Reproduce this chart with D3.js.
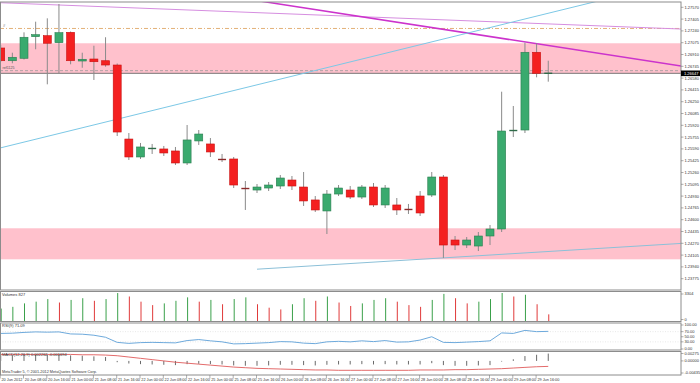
<!DOCTYPE html>
<html><head><meta charset="utf-8">
<script src="https://cdn.jsdelivr.net/npm/d3@7"></script>
<style>
html,body{margin:0;padding:0;background:#fff;overflow:hidden;}
svg{display:block;}
text{font-family:"Liberation Sans",Arial,sans-serif;}
</style></head><body>
<svg id="chart" width="700" height="383"></svg>
<script>
// ---------- DATA ----------
const openP  = [1.27001,1.26823,1.26857,1.27159,1.27173,1.27075,1.27220,1.26819,1.26847,1.26823,
                1.26763,1.25728,1.25477,1.25589,1.25589,1.25561,1.25393,1.25701,1.25659,1.25449,
                1.25449,1.25043,1.25015,1.25043,1.25071,1.25155,1.25057,1.24876,1.24722,1.24959,
                1.25015,1.24917,1.25057,1.24806,1.24806,1.24750,1.24931,1.24945,1.25197,1.24316,
                1.24246,1.24232,1.24372,1.24470,1.25840,1.25854,1.26941,1.26647];
const highP  = [1.27043,1.26935,1.27220,1.27369,1.27416,1.27616,1.27232,1.26935,1.27033,1.27151,
                1.26784,1.25812,1.25673,1.25659,1.25631,1.25617,1.25924,1.25854,1.25742,1.25519,
                1.25477,1.25141,1.25099,1.25127,1.25225,1.25211,1.25267,1.24931,1.25015,1.25085,
                1.25071,1.25085,1.25113,1.25085,1.24903,1.24820,1.25001,1.25267,1.25225,1.24372,
                1.24358,1.24428,1.24526,1.26390,1.26190,1.27075,1.27067,1.26823];
const lowP   = [1.26805,1.26787,1.26840,1.26983,1.26493,1.26647,1.26773,1.26725,1.26554,1.26739,
                1.25770,1.25435,1.25449,1.25519,1.25491,1.25365,1.25365,1.25645,1.25477,1.25407,
                1.25043,1.24736,1.24973,1.25001,1.25029,1.25015,1.24792,1.24708,1.24400,1.24931,
                1.24890,1.24890,1.24778,1.24764,1.24666,1.24680,1.24652,1.24917,1.24065,1.24176,
                1.24204,1.24162,1.24246,1.24428,1.25756,1.25812,1.26591,1.26530];
const closeP = [1.26823,1.26871,1.27151,1.27187,1.27067,1.27215,1.26823,1.26843,1.26809,1.26763,
                1.25826,1.25477,1.25617,1.25603,1.25533,1.25393,1.25715,1.25798,1.25547,1.25435,
                1.25085,1.25029,1.25057,1.25085,1.25183,1.25071,1.24862,1.24736,1.24959,1.25043,
                1.24917,1.25057,1.24806,1.25043,1.24736,1.24736,1.24694,1.25197,1.24246,1.24246,
                1.24316,1.24372,1.24470,1.25840,1.25854,1.26941,1.26647,1.26647];
const volumes = [1500,1700,2100,2300,2600,2200,2500,2700,2400,2600,
                 3300,2900,2300,1900,2100,2400,2800,2300,2500,2000,
                 2600,2800,2000,1600,1400,2000,2700,2400,2900,2200,
                 1800,2100,2500,2700,2300,1900,1700,2500,3200,2700,
                 2100,2300,2600,3304,2900,3100,2000,827];
const rsiValues = [63,64,67,69,68,69,61,60,56,48,
                   28,24,27,28,27,26,35,39,34,30,
                   22,23,25,27,31,30,25,23,30,32,
                   30,34,31,35,29,30,37,50,28,27,
                   29,31,34,65,63,75,70,71.09];
const macdMain = [0.0018,0.0017,0.0019,0.0020,0.0019,0.0020,0.0017,0.0016,0.0014,0.0012,
                  -0.0004,-0.0008,-0.0010,-0.0011,-0.0012,-0.0013,-0.0010,-0.0009,-0.0010,-0.0011,
                  -0.0014,-0.0015,-0.0015,-0.0014,-0.0012,-0.0012,-0.0013,-0.0014,-0.0012,-0.0011,
                  -0.0011,-0.0010,-0.0011,-0.0010,-0.0011,-0.0011,-0.0011,-0.0007,-0.0013,-0.0015,
                  -0.0015,-0.0014,-0.0013,-0.0002,0.0005,0.0015,0.0019,0.002262];
const macdSignal = [0.0020,0.0020,0.0020,0.0020,0.0020,0.0020,0.0020,0.0019,0.0019,0.0018,
                    0.0016,0.0012,0.0008,0.0004,0.0000,-0.0004,-0.0007,-0.0010,-0.0013,-0.0016,
                    -0.0019,-0.0021,-0.0023,-0.0024,-0.0025,-0.0026,-0.0027,-0.0028,-0.0028,-0.0029,
                    -0.0029,-0.0029,-0.0029,-0.0029,-0.0029,-0.0029,-0.0028,-0.0028,-0.0028,-0.0027,
                    -0.0027,-0.0026,-0.0025,-0.0024,-0.0022,-0.0020,-0.0018,-0.001694];
const dateLabels = ["20 Jun 2012","20 Jun 08:00","20 Jun 16:00","21 Jun 00:00","21 Jun 08:00","21 Jun 16:00",
                    "22 Jun 00:00","22 Jun 08:00","22 Jun 16:00","25 Jun 00:00","25 Jun 08:00","25 Jun 16:00",
                    "26 Jun 00:00","26 Jun 08:00","26 Jun 16:00","27 Jun 00:00","27 Jun 08:00","27 Jun 16:00",
                    "28 Jun 00:00","28 Jun 08:00","28 Jun 16:00","29 Jun 00:00","29 Jun 08:00","29 Jun 16:00"];
const priceTicks = [1.27570,1.27405,1.27240,1.27075,1.26910,1.26745,1.26580,1.26415,1.26250,1.26085,
                    1.25920,1.25755,1.25590,1.25425,1.25260,1.25095,1.24930,1.24765,1.24600,1.24435,
                    1.24270,1.24105,1.23940,1.23775];
const rsiTicks = [100,70,50,30,0];
const volumeTicks = [3304,0];
const macdTicks = [0.00275,0.0,-0.00435];
const upperZone = [1.27067,1.26644];
const lowerZone = [1.24480,1.24046];
const orangeLevel = 1.27274;
const refLevel = 1.26684;
// trendlines: [barIndex, price] pairs
const violetLine  = [[-1,1.27640],[60,1.27256]];
const magentaLine = [[20,1.27714],[60,1.26709]];
const blueUpper   = [[-1,1.25565],[52,1.27687]];
const blueLower   = [[22,1.23908],[60,1.24284]];

// ---------- LAYOUT ----------
const svg = d3.select("#chart");
const R = 681;
const P = {main:[2,290], vol:[291.5,321.5], rsi:[323,350], macd:[351.5,375]};
const n = closeP.length;
const x = d3.scaleLinear().domain([0,47]).range([0.7,548.25]);
const y = d3.scaleLinear().domain([priceTicks[priceTicks.length-1],priceTicks[0]]).range([278.7,7.3]);
const yv = d3.scaleLinear().domain([0,3304]).range([321.5,293]);
const yr = d3.scaleLinear().domain([0,100]).range([349.5,324]);
const ym = d3.scaleLinear().domain([-0.00435,0.00275]).range([375,352]);

const defs = svg.append("defs");
Object.entries(P).forEach(([k,[t,b]])=>{
  defs.append("clipPath").attr("id","clip-"+k).append("rect").attr("x",0).attr("y",t).attr("width",R).attr("height",b-t);
});

// ---------- MAIN ----------
const gm = svg.append("g").attr("clip-path","url(#clip-main)");
[upperZone,lowerZone].forEach(z=>{
  gm.append("rect").attr("x",0).attr("width",R).attr("y",y(z[0])).attr("height",y(z[1])-y(z[0])).attr("fill","#ffc1cc");
});
gm.append("line").attr("x1",0).attr("x2",R).attr("y1",y(orangeLevel)).attr("y2",y(orangeLevel))
  .attr("stroke","#e0a868").attr("stroke-width",0.9).attr("stroke-dasharray","4,2,1,2");
gm.append("line").attr("x1",0).attr("x2",R).attr("y1",y(refLevel)).attr("y2",y(refLevel))
  .attr("stroke","#9a9a9a").attr("stroke-width",0.8).attr("stroke-dasharray","3,2");
gm.append("line").attr("x1",0).attr("x2",R).attr("y1",y(closeP[n-1])).attr("y2",y(closeP[n-1]))
  .attr("stroke","#777").attr("stroke-width",1);

const tl = d3.line().x(d=>x(d[0])).y(d=>y(d[1]));
gm.append("path").attr("d",tl(violetLine)).attr("fill","none").attr("stroke","#d68ee0").attr("stroke-width",1);
gm.append("path").attr("d",tl(magentaLine)).attr("fill","none").attr("stroke","#cc33cc").attr("stroke-width",1.5);
gm.append("path").attr("d",tl(blueUpper)).attr("fill","none").attr("stroke","#7cc8e6").attr("stroke-width",1);
gm.append("path").attr("d",tl(blueLower)).attr("fill","none").attr("stroke","#8cc0d8").attr("stroke-width",1);

const bw = 8;
const candles = gm.selectAll("g.c").data(d3.range(n)).enter().append("g");
candles.append("line").attr("x1",i=>x(i)).attr("x2",i=>x(i)).attr("y1",i=>y(highP[i])).attr("y2",i=>y(lowP[i]))
  .attr("stroke","#8a8a8a").attr("stroke-width",1);
candles.each(function(i){
  const g = d3.select(this);
  const up = closeP[i] >= openP[i];
  const t = y(Math.max(openP[i],closeP[i])), b = y(Math.min(openP[i],closeP[i]));
  if (b - t < 1.2) {
    g.append("line").attr("x1",x(i)-bw/2).attr("x2",x(i)+bw/2).attr("y1",(t+b)/2).attr("y2",(t+b)/2)
      .attr("stroke", up ? "#2e6b48" : "#8a2a2a").attr("stroke-width",1.4);
  } else {
    g.append("rect").attr("x",x(i)-bw/2).attr("width",bw).attr("y",t).attr("height",b-t)
      .attr("fill", up ? "#3aaa6e" : "#f42020").attr("stroke", up ? "#2b7d50" : "#c81010").attr("stroke-width",0.6);
  }
});
svg.append("text").attr("x",3).attr("y",y(orangeLevel)-1.5).attr("font-size",4).attr("fill","#555").text("#");
svg.append("text").attr("x",2.5).attr("y",y(refLevel)-1.2).attr("font-size",3.6).attr("fill","#555").text("ref1125");

// ---------- VOLUMES ----------
const gv = svg.append("g").attr("clip-path","url(#clip-vol)");
gv.selectAll("line").data(volumes).enter().append("line")
  .attr("x1",(d,i)=>x(i)+0.5).attr("x2",(d,i)=>x(i)+0.5).attr("y1",yv(0)).attr("y2",d=>yv(d))
  .attr("stroke",(d,i)=> (i===0 || d>=volumes[i-1]) ? "#3aa04a" : "#e03a3a").attr("stroke-width",1);
svg.append("text").attr("x",2).attr("y",296).attr("font-size",4).attr("fill","#333").text("Volumes " + volumes[n-1]);

// ---------- RSI ----------
const gr = svg.append("g").attr("clip-path","url(#clip-rsi)");
[70,30].forEach(l=>gr.append("line").attr("x1",0).attr("x2",R).attr("y1",yr(l)).attr("y2",yr(l))
  .attr("stroke","#d8d8d8").attr("stroke-width",0.6).attr("stroke-dasharray","1,1.5"));
gr.append("path").attr("d",d3.line().x((d,i)=>x(i)).y(d=>yr(d))(rsiValues))
  .attr("fill","none").attr("stroke","#6eaadc").attr("stroke-width",1);
svg.append("text").attr("x",2).attr("y",327).attr("font-size",4).attr("fill","#333").text("RSI(9) " + rsiValues[n-1].toFixed(2));

// ---------- MACD ----------
const gc = svg.append("g").attr("clip-path","url(#clip-macd)");
gc.selectAll("line.h").data(macdMain).enter().append("line")
  .attr("x1",(d,i)=>x(i)).attr("x2",(d,i)=>x(i)).attr("y1",ym(0)).attr("y2",d=>ym(d))
  .attr("stroke","#6a6a6a").attr("stroke-width",1);
gc.append("path").attr("d",d3.line().x((d,i)=>x(i)).y(d=>ym(d))(macdSignal))
  .attr("fill","none").attr("stroke","#e05a5a").attr("stroke-width",0.9);
svg.append("text").attr("x",2).attr("y",356).attr("font-size",4).attr("fill","#333")
  .text("MACD(12,26,9) " + macdMain[n-1].toFixed(6) + " " + macdSignal[n-1].toFixed(6));
svg.append("text").attr("x",2).attr("y",373.3).attr("font-size",3.8).attr("fill","#333")
  .text("MetaTrader 5, © 2001-2012 MetaQuotes Software Corp.");

// ---------- FRAMES ----------
Object.values(P).forEach(([t,b])=>{
  svg.append("rect").attr("x",0.5).attr("y",t).attr("width",R-0.5).attr("height",b-t)
    .attr("fill","none").attr("stroke","#8c8c8c").attr("stroke-width",1);
});

// ---------- RIGHT AXES ----------
const axT = (val, yy, fmt) => {
  svg.append("line").attr("x1",R).attr("x2",R+2.5).attr("y1",yy).attr("y2",yy).attr("stroke","#777").attr("stroke-width",0.6);
  svg.append("text").attr("x",R+3.5).attr("y",yy).attr("dy","0.35em").attr("font-size",4).attr("fill","#333").text(fmt(val));
};
priceTicks.forEach(v=>axT(v, y(v), d=>d.toFixed(5)));
volumeTicks.forEach(v=>axT(v, v===0 ? yv(v)-2 : yv(v)+1, d=>String(d)));
rsiTicks.forEach(v=>axT(v, v===100 ? yr(v)+1 : v===0 ? yr(v)-0.5 : yr(v), d=>d.toFixed(2)));
macdTicks.forEach(v=>axT(v, v>0 ? ym(v)+1.5 : v<0 ? ym(v)-2 : ym(v), d=>d.toFixed(5)));

// current price box
const cy = y(closeP[n-1]);
svg.append("rect").attr("x",R).attr("y",cy-2.8).attr("width",700-R).attr("height",5.6).attr("fill","#000");
svg.append("text").attr("x",R+3).attr("y",cy).attr("dy","0.35em").attr("font-size",4).attr("fill","#fff").text(closeP[n-1].toFixed(5));

// ---------- TIME AXIS ----------
dateLabels.forEach((lab,k)=>{
  const xx = x(2*k);
  svg.append("line").attr("x1",xx-0.5).attr("x2",xx-0.5).attr("y1",375).attr("y2",378.5).attr("stroke","#777").attr("stroke-width",0.6);
  svg.append("text").attr("x",xx+0.8).attr("y",380.5).attr("font-size",3.8).attr("fill","#333").text(lab);
});
</script>
</body></html>
